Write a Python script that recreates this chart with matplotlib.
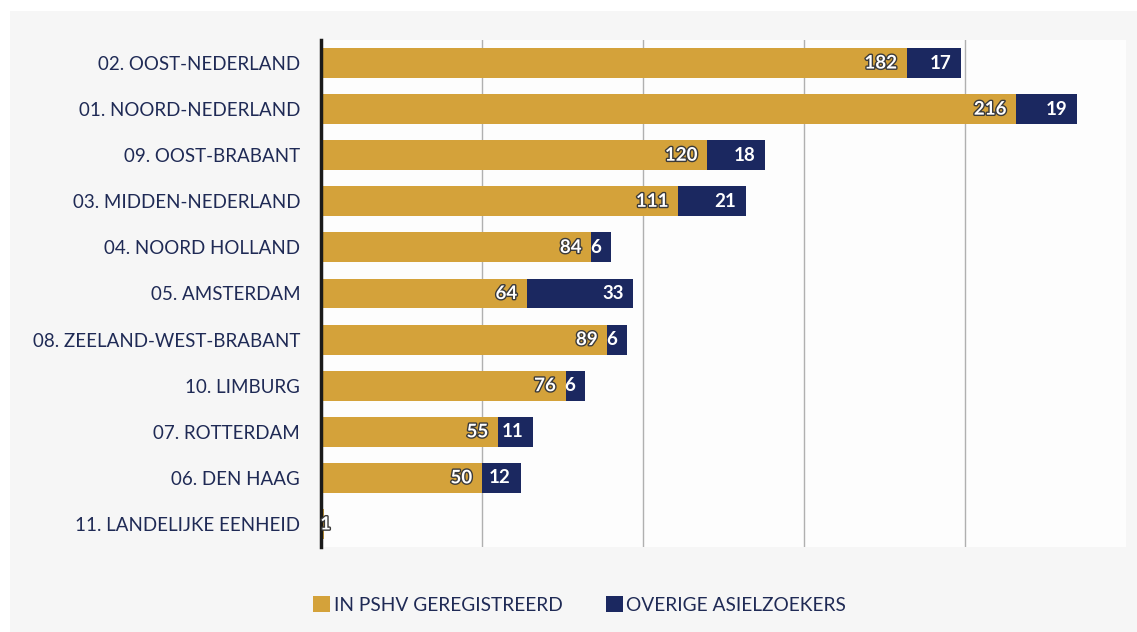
import matplotlib.pyplot as plt
import matplotlib.patheffects as pe
from matplotlib.patches import Rectangle

plt.rcParams['font.family'] = ['Lato', 'DejaVu Sans']

regions = ["02. OOST-NEDERLAND", "01. NOORD-NEDERLAND", "09. OOST-BRABANT",
           "03. MIDDEN-NEDERLAND", "04. NOORD HOLLAND", "05. AMSTERDAM",
           "08. ZEELAND-WEST-BRABANT", "10. LIMBURG", "07. ROTTERDAM",
           "06. DEN HAAG", "11. LANDELIJKE EENHEID"]
pshv = [182, 216, 120, 111, 84, 64, 89, 76, 55, 50, 1]
overig = [17, 19, 18, 21, 6, 33, 6, 6, 11, 12, 0]

gold = '#D4A23A'
navy = '#1B2860'
txt = '#1F2A55'

fig = plt.figure(figsize=(11.37, 6.32), dpi=100)
fig.patch.set_facecolor('white')
fig.patches.append(Rectangle((0.009, 0), 0.991, 0.982, transform=fig.transFigure,
                             facecolor='#f6f6f6', edgecolor='none', zorder=-1))
ax = fig.add_axes([0.2823, 1 - 547 / 632, 1 - 0.2823 - 0.01, (547 - 40) / 632])
ax.set_facecolor('#fdfdfd')

y = list(range(len(regions)))
ax.barh(y, pshv, height=0.65, color=gold, label='IN PSHV GEREGISTREERD', zorder=3)
ax.barh(y, overig, left=pshv, height=0.65, color=navy, label='OVERIGE ASIELZOEKERS', zorder=3)

halo = [pe.withStroke(linewidth=2, foreground='#3a3a3a')]
for i in y:
    if pshv[i] < 5:
        ax.annotate(str(pshv[i]), (pshv[i], i), xytext=(1, 0), textcoords='offset points',
                    ha='center', va='center', color='white', fontsize=13, fontweight='bold',
                    path_effects=halo, zorder=6)
    else:
        ax.annotate(str(pshv[i]), (pshv[i], i), xytext=(-7, 0), textcoords='offset points',
                    ha='right', va='center', color='white', fontsize=13.5, fontweight='bold',
                    path_effects=halo, zorder=4)
    if overig[i] > 0:
        ax.annotate(str(overig[i]), (pshv[i] + overig[i], i), xytext=(-7, 0),
                    textcoords='offset points', ha='right', va='center', color='white',
                    fontsize=13.5, fontweight='bold', zorder=4)

ax.set_xlim(0, 250)
ax.set_ylim(len(regions) - 0.5, -0.5)
ax.set_yticks(y)
ax.set_yticklabels(regions, fontsize=13.5, color=txt)
ax.set_xticks([50, 100, 150, 200])
ax.tick_params(axis='x', length=0, labelbottom=False)
ax.tick_params(axis='y', length=0, pad=15)
ax.grid(axis='x', color='#b0b0b0', linewidth=1, zorder=0)
for s in ['top', 'right', 'bottom']:
    ax.spines[s].set_visible(False)
ax.spines['left'].set_linewidth(2.5)
ax.spines['left'].set_color('#1a1a1a')
ax.spines['left'].set_zorder(5)

fig.legend(loc='center', bbox_to_anchor=(0.51, 1 - 605 / 632), ncol=2, frameon=False,
           fontsize=13.8, labelcolor=txt, handlelength=0.85, handleheight=0.85,
           handletextpad=0.2, columnspacing=2.3)

fig.savefig('out.png', dpi=100, facecolor=fig.get_facecolor())
